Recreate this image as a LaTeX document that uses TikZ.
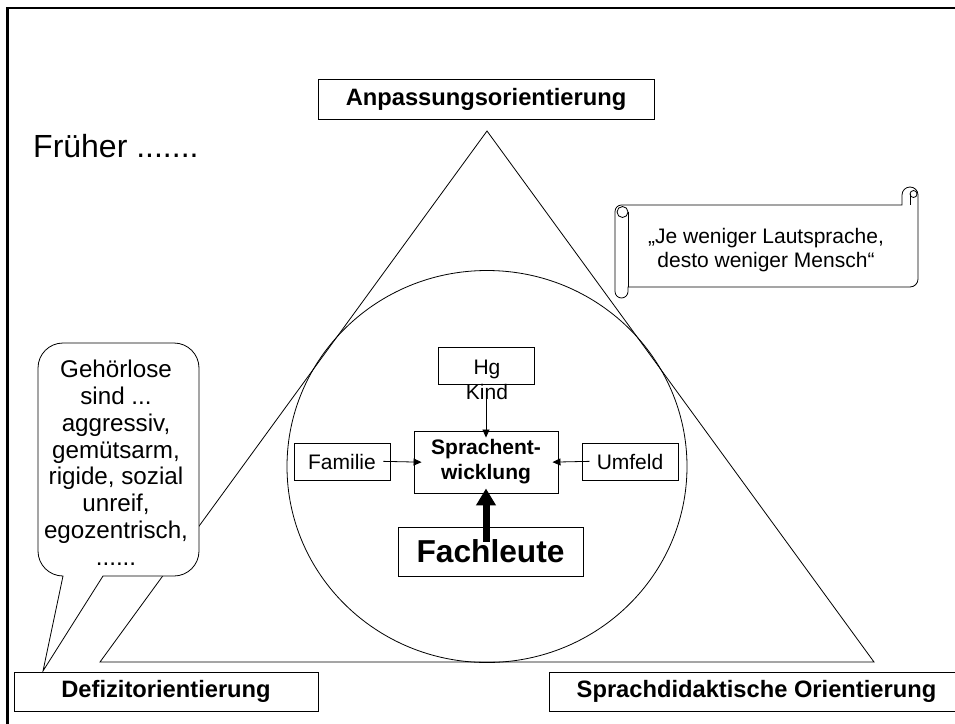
\documentclass[tikz,border=0pt]{standalone}
\usepackage{fontspec}
\setmainfont{Liberation Sans}
\usetikzlibrary{arrows.meta}
\newcommand\myfs[2]{\fontsize{#1}{#2}\selectfont}
\begin{document}
\begin{tikzpicture}[x=1pt,y=1pt,
  box/.style={draw, line width=0.9pt, inner sep=0pt, fill=white},
  thinline/.style={line width=0.8pt},
  sarrow/.style={line width=0.8pt, -{Triangle[length=8pt,width=7pt]}},
  title/.style={box, font=\bfseries\myfs{23.7}{27}},
  smalltext/.style={font=\myfs{21}{25}},
  ]
\useasboundingbox (0,0) rectangle (955,-723);
\fill[white] (0,0) rectangle (955,-723);
% frame
\draw[line width=2.6pt, line join=miter] (7.5,-730) -- (7.5,-8) -- (965,-8);
% triangle and circle
\coordinate (tA) at (487,-131);
\coordinate (tL) at (100,-662);
\coordinate (tR) at (874,-662);
\draw[thinline] (tA) -- (tL) -- (tR) -- cycle;
\draw[thinline] (487,-466.5) ellipse [x radius=200, y radius=196];
% titles
\node[title, minimum width=336pt, minimum height=40pt] (anp) at (486,-99) {Anpassungsorientierung};
\node[title, minimum width=304pt, minimum height=39pt] (def) at (166,-691.5) {Defizitorientierung};
\node[title, minimum width=415pt, minimum height=39pt] (sdo) at (756.5,-691.5) {Sprachdidaktische Orientierung};
% Frueher
\node[anchor=base west, inner sep=0pt, font=\myfs{32}{36}] (frueher) at (33,-157) {Früher .......};
% callout
\draw[thinline, fill=white] (103,-576) -- (43,-671) -- (63,-576)
  arc[start angle=270, end angle=180, radius=25] -- (38,-368)
  arc[start angle=180, end angle=90, radius=25] -- (174,-343)
  arc[start angle=90, end angle=0, radius=25] -- (199,-551)
  arc[start angle=0, end angle=-90, radius=25] -- cycle;
\node[align=center, anchor=north, inner sep=0pt, font=\myfs{24.2}{26.8}] (gl) at (116,-360)
  {Gehörlose\\sind ...\\aggressiv,\\gemütsarm,\\rigide, sozial\\unreif,\\egozentrisch,\\......};
% scroll
\draw[thinline, fill=white] (628,-205) -- (902,-205) -- (902,-195)
  arc[start angle=180, end angle=0, radius=8] -- (918,-279)
  arc[start angle=0, end angle=-90, radius=8] -- (628,-287) -- (628,-291.5)
  arc[start angle=0, end angle=-180, radius=6.5] -- (615,-211.5)
  arc[start angle=180, end angle=90, radius=6.5] -- cycle;
\draw[thinline] (628,-287) -- (628,-212);
\draw[thinline] (622.5,-212) circle (5.5);
\draw[thinline] (913.5,-194) circle (3.5);
\draw[thinline] (910,-194) -- (910,-205);
\node[align=center, inner sep=0pt, font=\myfs{21}{24}] (quote) at (766,-250.5)
  {„Je weniger Lautsprache,\\desto weniger Mensch“};
% central diagram
\node[box, minimum width=96pt, minimum height=37pt] (hgbox) at (486,-365.5) {};
\node[anchor=base, inner sep=0pt, smalltext] (hg) at (487,-374) {Hg};
\node[anchor=base, inner sep=0pt, smalltext] (kind) at (487,-399) {Kind};
\node[box, minimum width=144pt, minimum height=62pt, align=center, font=\bfseries\myfs{21}{25}] (sw) at (486,-462) {Sprachent-\\wicklung};
\node[box, minimum width=96pt, minimum height=37pt, smalltext] (fam) at (342,-461.5) {Familie};
\node[box, minimum width=96pt, minimum height=37pt, smalltext] (umf) at (630,-461.5) {Umfeld};
\node[box, minimum width=185pt, minimum height=49pt, font=\bfseries\myfs{31.7}{36}] (fach) at (490.5,-551.5) {Fachleute};
\draw[sarrow, shorten <=11pt, shorten >=-7pt] (hgbox.south) -- (sw.north);
\draw[sarrow, shorten <=-7pt, shorten >=-8pt] (fam.east) -- (sw.west);
\draw[sarrow, shorten <=-8pt, shorten >=-6pt] (umf.west) -- (sw.east);
\draw[line width=7pt, -{Triangle[length=17pt,width=19pt]}, shorten <=-15pt, shorten >=-5pt] (sw.south |- fach.north) -- (sw.south);
\end{tikzpicture}
\end{document}
